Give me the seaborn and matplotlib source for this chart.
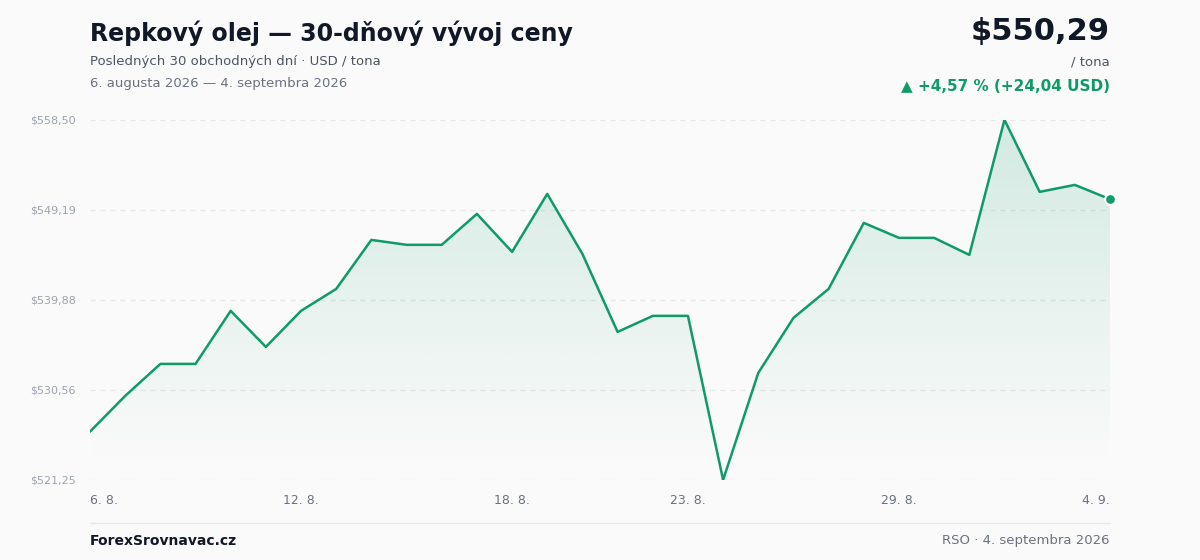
import numpy as np
import pandas as pd
import matplotlib
matplotlib.use("Agg")
import matplotlib.pyplot as plt
import seaborn as sns
from matplotlib.patches import Polygon

# -------------------------------
# Data
# -------------------------------
prices = [526.25, 529.94, 533.25, 533.25, 538.74, 535.01, 538.74, 541.01, 546.08, 545.57,
          545.57, 548.77, 544.84, 550.84, 544.63, 536.56, 538.22, 538.22, 521.25, 532.32,
          538.01, 541.01, 547.84, 546.29, 546.29, 544.53, 558.50, 551.05, 551.77, 550.29]
tick_idx = [0, 6, 12, 17, 23, 29]
tick_labels = ["6. 8.", "12. 8.", "18. 8.", "23. 8.", "29. 8.", "4. 9."]
y_ticks = [521.25, 530.56, 539.88, 549.19, 558.50]

GREEN = "#0f9a68"
BG = "#fafafa"

sns.set_theme(style="white")
plt.rcParams['font.family'] = ['DejaVu Sans']

df = pd.DataFrame({"day": range(len(prices)), "price": prices})

fig = plt.figure(figsize=(12, 5.6), dpi=100, facecolor=BG)
ax = fig.add_axes([0.075, 0.143, 0.85, 0.643], facecolor=BG)

ymin, ymax = y_ticks[0], y_ticks[-1]
ax.set_xlim(0, len(prices) - 1)
ax.set_ylim(ymin, ymax)

# gradient fill under the line (RGBA image, alpha fading downwards)
rgb = matplotlib.colors.to_rgb(GREEN)
alpha = np.linspace(0.17, 0.0, 256)
grad = np.zeros((256, 1, 4))
grad[:, 0, :3] = rgb
grad[:, 0, 3] = alpha
bottom = ymin + 1.5
img = ax.imshow(grad, aspect="auto", extent=[0, len(prices) - 1, bottom, ymax],
                origin="upper", zorder=1, interpolation="bilinear")
verts = [(0, bottom)] + list(zip(df["day"], df["price"])) + [(len(prices) - 1, bottom)]
poly = Polygon(verts, closed=True, facecolor="none", edgecolor="none")
ax.add_patch(poly)
img.set_clip_path(poly)

for t in y_ticks:
    ax.axhline(t, color="#e5e7eb", lw=0.9, ls=(0, (4, 4)), zorder=0)

sns.lineplot(data=df, x="day", y="price", color=GREEN, lw=1.8, ax=ax, zorder=3)
ax.scatter([df["day"].iloc[-1]], [df["price"].iloc[-1]], s=60, color=GREEN,
           edgecolor="white", linewidth=1.5, zorder=4, clip_on=False)

ax.set_xticks(tick_idx)
ax.set_xticklabels(tick_labels, color="#6b7280", fontsize=9)
ax.set_yticks(y_ticks)
ax.set_yticklabels(["$" + f"{v:.2f}".replace(".", ",") for v in y_ticks],
                   color="#9ca3af", fontsize=8)
ax.tick_params(axis="both", length=0, pad=10)
ax.get_xticklabels()[0].set_horizontalalignment("left")
ax.get_xticklabels()[-1].set_horizontalalignment("right")
ax.set_xlabel("")
ax.set_ylabel("")
sns.despine(ax=ax, left=True, bottom=True)

# titles
fig.text(0.075, 0.94, "Repkový olej — 30-dňový vývoj ceny", fontsize=17, fontweight="bold",
         color="#111827", va="center")
fig.text(0.075, 0.89, "Posledných 30 obchodných dní · USD / tona", fontsize=9.5,
         color="#4b5563", va="center")
fig.text(0.075, 0.851, "6. augusta 2026 — 4. septembra 2026", fontsize=9.5,
         color="#6b7280", va="center")
fig.text(0.925, 0.943, "$550,29", fontsize=22, fontweight="bold", color="#111827",
         ha="right", va="center")
fig.text(0.925, 0.89, "/ tona", fontsize=9.5, color="#4b5563", ha="right", va="center")
fig.text(0.925, 0.845, "▲ +4,57 % (+24,04 USD)", fontsize=11, fontweight="bold",
         color=GREEN, ha="right", va="center")

# footer
fig.add_artist(plt.Line2D([0.075, 0.925], [0.066, 0.066], color="#e5e7eb", lw=1))
fig.text(0.075, 0.034, "ForexSrovnavac.cz", fontsize=10, fontweight="bold",
         color="#111827", va="center")
fig.text(0.925, 0.034, "RSO · 4. septembra 2026", fontsize=9.5, color="#6b7280",
         ha="right", va="center")

fig.savefig("out.png", dpi=100, facecolor=BG)
